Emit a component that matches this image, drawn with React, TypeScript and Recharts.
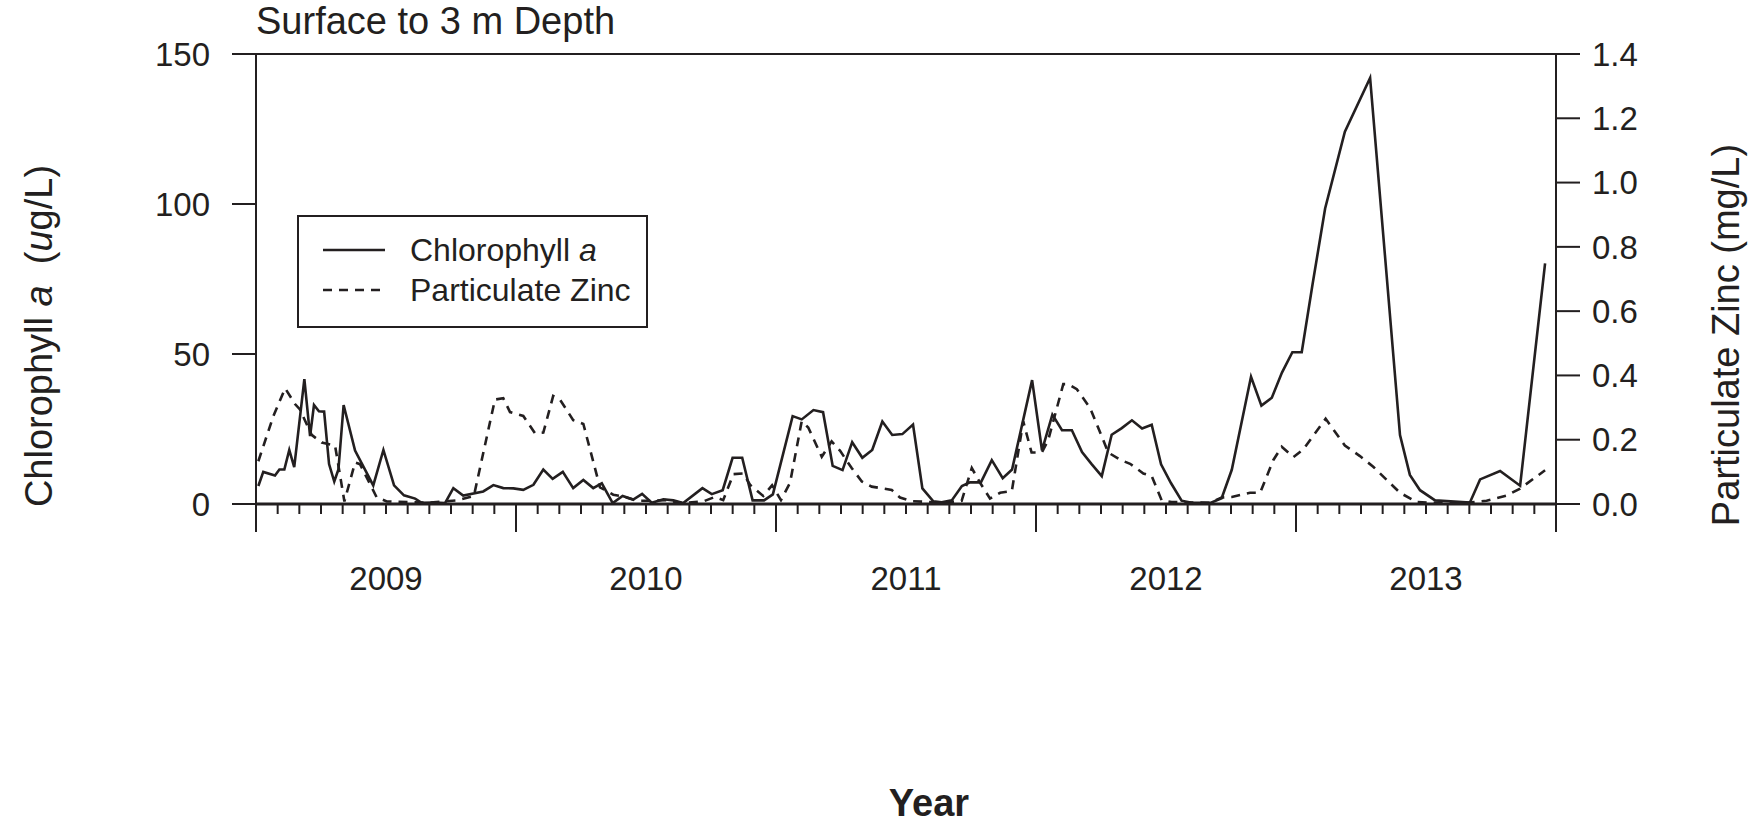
import React from 'react';
import { LineChart, Line, XAxis, YAxis, ReferenceLine, Legend } from 'recharts';

const INK = '#231f20';
const FONT = '"Liberation Sans", Arial, Helvetica, sans-serif';

const START_YEAR = 2009;
const yearLabels = ['2009', '2010', '2011', '2012', '2013'];
const chlTicks = [0, 50, 100, 150];
const zincTicks = [0, 0.2, 0.4, 0.6, 0.8, 1.0, 1.2, 1.4];

// sampling dates as decimal years, chlorophyll a in ug/L
const chlDates = [
  2009.009, 2009.028, 2009.073, 2009.090, 2009.109, 2009.128, 2009.147, 2009.186, 2009.208, 2009.223,
  2009.242, 2009.262, 2009.281, 2009.301, 2009.317, 2009.337, 2009.381, 2009.451, 2009.490, 2009.531,
  2009.569, 2009.612, 2009.637, 2009.688, 2009.727, 2009.759, 2009.797, 2009.874, 2009.913, 2009.951,
  2009.990, 2010.028, 2010.067, 2010.105, 2010.141, 2010.180, 2010.220, 2010.259, 2010.297, 2010.330,
  2010.372, 2010.410, 2010.451, 2010.485, 2010.522, 2010.567, 2010.605, 2010.643, 2010.717, 2010.753,
  2010.795, 2010.833, 2010.870, 2010.910, 2010.954, 2010.988, 2011.064, 2011.099, 2011.144, 2011.181,
  2011.218, 2011.256, 2011.293, 2011.332, 2011.370, 2011.409, 2011.447, 2011.486, 2011.527, 2011.563,
  2011.605, 2011.637, 2011.676, 2011.715, 2011.746, 2011.788, 2011.830, 2011.872, 2011.908, 2011.985,
  2012.023, 2012.063, 2012.100, 2012.138, 2012.177, 2012.214, 2012.253, 2012.291, 2012.330, 2012.369,
  2012.408, 2012.445, 2012.481, 2012.519, 2012.560, 2012.599, 2012.673, 2012.714, 2012.753, 2012.827,
  2012.867, 2012.907, 2012.946, 2012.986, 2013.022, 2013.064, 2013.112, 2013.188, 2013.285, 2013.400,
  2013.438, 2013.477, 2013.535, 2013.669, 2013.708, 2013.785, 2013.862, 2013.958,
];
const chlValues = [
  6.0, 10.7, 9.5, 11.5, 11.5, 18.0, 12.3, 41.6, 22.6, 33.0,
  30.9, 30.8, 13.3, 7.5, 11.5, 33.0, 17.8, 6.2, 18.0, 6.2,
  2.9, 1.8, 0.4, 0.5, 0.3, 5.3, 2.8, 4.2, 6.3, 5.3,
  5.2, 4.7, 6.4, 11.5, 8.4, 10.7, 5.3, 8.0, 5.3, 6.9,
  0.3, 2.7, 1.5, 3.4, 0.4, 1.6, 1.2, 0.3, 5.3, 3.3,
  4.6, 15.4, 15.4, 1.2, 1.2, 3.2, 29.3, 28.2, 31.3, 30.6,
  12.7, 11.3, 20.6, 15.4, 18.0, 27.5, 23.0, 23.3, 26.5, 5.2,
  0.9, 0.6, 1.2, 6.0, 7.2, 7.2, 14.6, 8.6, 11.5, 41.3,
  17.9, 29.8, 24.6, 24.6, 17.3, 13.3, 9.3, 23.1, 25.3, 27.9,
  25.2, 26.4, 13.2, 7.0, 1.1, 0.4, 0.4, 1.9, 11.4, 42.4,
  32.8, 35.4, 43.8, 50.6, 50.6, 73.4, 98.5, 124.1, 142.0, 23.0,
  9.7, 4.6, 1.2, 0.5, 8.2, 11.0, 6.1, 80.2,
];

// particulate zinc, mg/L
const zincDates = [
  2009.009, 2009.067, 2009.112, 2009.150, 2009.169, 2009.214, 2009.253, 2009.304, 2009.340, 2009.381,
  2009.400, 2009.464, 2009.503, 2009.669, 2009.772, 2009.838, 2009.919, 2009.951, 2009.977, 2010.028,
  2010.073, 2010.105, 2010.143, 2010.169, 2010.220, 2010.259, 2010.323, 2010.374, 2010.413, 2010.464,
  2010.515, 2010.580, 2010.631, 2010.720, 2010.765, 2010.797, 2010.836, 2010.874, 2010.900, 2010.951,
  2010.985, 2011.019, 2011.054, 2011.099, 2011.124, 2011.176, 2011.214, 2011.246, 2011.291, 2011.330,
  2011.368, 2011.445, 2011.477, 2011.522, 2011.643, 2011.714, 2011.753, 2011.785, 2011.823, 2011.862,
  2011.907, 2011.951, 2011.983, 2012.022, 2012.047, 2012.105, 2012.124, 2012.157, 2012.208, 2012.253,
  2012.278, 2012.323, 2012.362, 2012.413, 2012.445, 2012.483, 2012.522, 2012.669, 2012.714, 2012.753,
  2012.823, 2012.862, 2012.913, 2012.945, 2012.990, 2013.028, 2013.114, 2013.188, 2013.246, 2013.297,
  2013.349, 2013.400, 2013.464, 2013.515, 2013.657, 2013.733, 2013.810, 2013.862, 2013.958,
];
const zincValues = [
  0.133, 0.274, 0.360, 0.311, 0.294, 0.215, 0.191, 0.182, 0.008, 0.129,
  0.124, 0.021, 0.008, 0.004, 0.011, 0.025, 0.325, 0.329, 0.286, 0.274,
  0.220, 0.222, 0.336, 0.325, 0.261, 0.249, 0.052, 0.029, 0.023, 0.010,
  0.010, 0.012, 0.003, 0.008, 0.022, 0.012, 0.093, 0.095, 0.060, 0.025,
  0.058, 0.012, 0.066, 0.258, 0.238, 0.147, 0.195, 0.166, 0.112, 0.070,
  0.054, 0.044, 0.020, 0.009, 0.004, 0.010, 0.112, 0.066, 0.017, 0.035,
  0.040, 0.257, 0.160, 0.160, 0.199, 0.373, 0.373, 0.357, 0.299, 0.210,
  0.160, 0.138, 0.125, 0.095, 0.087, 0.012, 0.006, 0.004, 0.020, 0.022,
  0.035, 0.035, 0.137, 0.178, 0.146, 0.170, 0.265, 0.182, 0.149, 0.116,
  0.075, 0.035, 0.006, 0.004, 0.004, 0.010, 0.026, 0.048, 0.105,
];

const chlData = chlDates.map((t, i) => ({ t, chl: chlValues[i] }));
const zincData = zincDates.map((t, i) => ({ t, zinc: zincValues[i] }));

// one tick per month, long ones at the year boundaries
const monthTicks = Array.from({ length: yearLabels.length * 12 + 1 }, (_, k) => START_YEAR + k / 12);

const MonthTick = (props: any) => {
  const { x, y, payload } = props;
  const m = Math.round((payload.value - START_YEAR) * 12);
  const len = m % 12 === 0 ? 28 : 10;
  const label = m % 12 === 6 ? yearLabels[Math.floor(m / 12)] : null;
  return (
    <g>
      <line x1={x} x2={x} y1={y} y2={y + len} stroke={INK} strokeWidth={2} />
      {label && (
        <text x={x} y={y + 86} textAnchor="middle" fontSize={33} fontFamily={FONT} fill={INK}>
          {label}
        </text>
      )}
    </g>
  );
};

const legendItems = [
  { key: 'chl', dash: undefined, text: <>Chlorophyll <tspan fontStyle="italic">a</tspan></> },
  { key: 'zinc', dash: '9 7', text: <>Particulate Zinc</> },
];

const renderLegend = () => (
  <div style={{ width: 351, height: 113, border: `2px solid ${INK}`, boxSizing: 'border-box', position: 'relative', background: '#fff' }}>
    <svg width={347} height={109}>
      {legendItems.map((it, i) => (
        <g key={it.key}>
          <line x1={24} x2={86} y1={33 + i * 40} y2={33 + i * 40} stroke={INK} strokeWidth={2.6} strokeDasharray={it.dash} />
          <text x={111} y={33 + i * 40 + 11} fontSize={32} fontFamily={FONT} fill={INK}>{it.text}</text>
        </g>
      ))}
    </svg>
  </div>
);

export default function App() {
  return (
    <div style={{ position: 'absolute', left: 0, top: 0, width: 1748, height: 828, background: '#fff' }}>
      <div style={{ position: 'absolute', left: 256, top: 0, fontSize: 38, fontFamily: FONT, color: INK, lineHeight: '42px' }}>
        Surface to 3 m Depth
      </div>
      <LineChart width={1748} height={828} margin={{ top: 54, right: 0, bottom: 0, left: 0 }}>
        <XAxis
          xAxisId="x"
          dataKey="t"
          type="number"
          domain={[START_YEAR, START_YEAR + yearLabels.length]}
          ticks={monthTicks}
          interval={0}
          height={211}
          tickSize={0}
          tickMargin={0}
          tickLine={false}
          axisLine={{ stroke: INK, strokeWidth: 3 }}
          tick={<MonthTick />}
          allowDataOverflow
          label={{
            content: () => (
              <text x={929} y={816} textAnchor="middle" fontSize={38} fontWeight="bold" fontFamily={FONT} fill={INK}>
                Year
              </text>
            ),
          }}
        />
        <YAxis
          yAxisId="left"
          orientation="left"
          width={256}
          domain={[0, 150]}
          ticks={chlTicks}
          interval={0}
          tickSize={24}
          tickMargin={22}
          tickLine={{ stroke: INK, strokeWidth: 2 }}
          axisLine={{ stroke: INK, strokeWidth: 2 }}
          tick={{ fill: INK, fontSize: 33, fontFamily: FONT }}
          label={{
            content: () => (
              <text x={39} y={336} transform="rotate(-90 39 336)" textAnchor="middle" dominantBaseline="central" fontSize={38} fontFamily={FONT} fill={INK}>
                Chlorophyll <tspan fontStyle="italic">a</tspan>{'\u00a0\u00a0'}(<tspan fontStyle="italic">u</tspan>g/L)
              </text>
            ),
          }}
        />
        <YAxis
          yAxisId="right"
          orientation="right"
          width={192}
          domain={[0, 1.4]}
          ticks={zincTicks}
          interval={0}
          tickSize={24}
          tickMargin={12}
          tickFormatter={(v: number) => v.toFixed(1)}
          tickLine={{ stroke: INK, strokeWidth: 2 }}
          axisLine={{ stroke: INK, strokeWidth: 2 }}
          tick={{ fill: INK, fontSize: 33, fontFamily: FONT }}
          label={{
            content: () => (
              <text x={1726} y={335} transform="rotate(-90 1726 335)" textAnchor="middle" dominantBaseline="central" fontSize={38} fontFamily={FONT} fill={INK}>
                Particulate Zinc (mg/L)
              </text>
            ),
          }}
        />
        <ReferenceLine yAxisId="left" xAxisId="x" y={150} stroke={INK} strokeWidth={2} />
        <Legend
          content={renderLegend}
          wrapperStyle={{ position: 'absolute', left: 297, top: 215, width: 351, height: 113 }}
        />
        <Line
          name="Chlorophyll a"
          data={chlData}
          xAxisId="x"
          yAxisId="left"
          dataKey="chl"
          type="linear"
          stroke={INK}
          strokeWidth={2.6}
          dot={false}
          isAnimationActive={false}
        />
        <Line
          name="Particulate Zinc"
          data={zincData}
          xAxisId="x"
          yAxisId="right"
          dataKey="zinc"
          type="linear"
          stroke={INK}
          strokeWidth={2.6}
          strokeDasharray="9 7"
          dot={false}
          isAnimationActive={false}
        />
      </LineChart>
    </div>
  );
}
